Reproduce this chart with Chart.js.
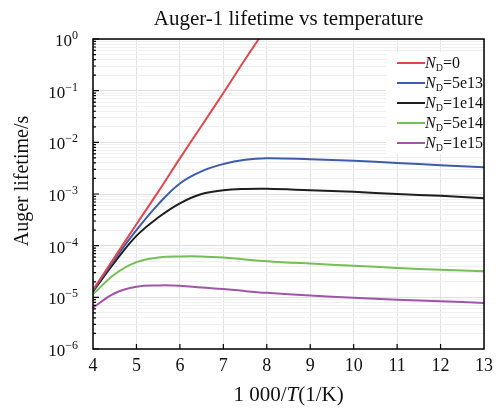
<!DOCTYPE html>
<html>
<head>
<meta charset="utf-8">
<script src="https://cdn.jsdelivr.net/npm/chart.js@4.4.1/dist/chart.umd.min.js"></script>
<style>
  html, body { margin: 0; padding: 0; background: #fff; }
</style>
</head>
<body>
<canvas id="myChart" width="499" height="413"></canvas>
<script>
// 1000/T values
const xValues = [4, 4.5, 5, 5.5, 6, 6.5, 7, 7.5, 8, 9, 10, 11, 12, 13];
const xRed = [4, 4.5, 5, 5.5, 6, 6.5, 7, 7.5, 8];

// lifetimes (s)
const tauN0 = [1.4e-5, 6.0e-5, 2.6e-4, 1.1e-3, 4.9e-3, 2.1e-2, 9.0e-2, 0.40, 1.7];
const tau5e13 = [1.35e-5, 5.5e-5, 2.0e-4, 6.3e-4, 1.6e-3, 2.75e-3, 3.8e-3, 4.6e-3, 4.9e-3, 4.7e-3, 4.4e-3, 4.0e-3, 3.6e-3, 3.3e-3];
const tau1e14 = [1.3e-5, 4.8e-5, 1.55e-4, 3.5e-4, 6.6e-4, 1.0e-3, 1.18e-3, 1.25e-3, 1.26e-3, 1.18e-3, 1.1e-3, 1.0e-3, 9.2e-4, 8.3e-4];
const tau5e14 = [1.15e-5, 2.8e-5, 4.8e-5, 5.9e-5, 6.2e-5, 6.2e-5, 5.9e-5, 5.4e-5, 5.0e-5, 4.5e-5, 4.1e-5, 3.7e-5, 3.4e-5, 3.2e-5];
const tau1e15 = [6.3e-6, 1.2e-5, 1.6e-5, 1.7e-5, 1.68e-5, 1.55e-5, 1.45e-5, 1.32e-5, 1.22e-5, 1.08e-5, 9.8e-6, 9.0e-6, 8.4e-6, 7.8e-6];

const legendValues = ['0', '5e13', '1e14', '5e14', '1e15'];
const lineColors = ['rgb(222,72,78)', 'rgb(62,92,170)', 'rgb(30,30,30)', 'rgb(118,190,86)', 'rgb(160,86,168)'];
const yDecades = [-6, -5, -4, -3, -2, -1, 0];

const serif = '"Liberation Serif", "DejaVu Serif", serif';

function toPoints(xs, ys) {
  return ys.map((y, i) => ({ x: xs[i], y: y }));
}

const seriesList = [tauN0, tau5e13, tau1e14, tau5e14, tau1e15];
const datasets = seriesList.map((s, i) => ({
  label: 'N_D=' + legendValues[i],
  data: toPoints(i === 0 ? xRed : xValues, s),
  borderColor: lineColors[i],
  borderWidth: 2,
  pointRadius: 0,
  fill: false,
  tension: 0.4
}));

// frame, inner tick marks, y labels, titles and legend
const decorPlugin = {
  id: 'decor',
  beforeDraw(chart) {
    const c = chart.ctx;
    c.save();
    c.fillStyle = '#fff';
    c.fillRect(0, 0, chart.width, chart.height);
    c.restore();
  },
  afterDatasetsDraw(chart) {
    const c = chart.ctx;
    const a = chart.chartArea;
    const xs = chart.scales.x;
    const ys = chart.scales.y;
    c.save();

    // legend box
    const lx = 386, ly = 52;
    c.fillStyle = '#fff';
    c.fillRect(lx, ly, a.right - lx - 1, 102);
    seriesList.forEach((s, i) => {
      const y = 63 + i * 20;
      c.strokeStyle = lineColors[i];
      c.lineWidth = 2;
      c.beginPath();
      c.moveTo(397, y);
      c.lineTo(425, y);
      c.stroke();
      c.fillStyle = '#111';
      c.textBaseline = 'alphabetic';
      c.textAlign = 'left';
      let tx = 425;
      c.font = 'italic 16px ' + serif;
      c.fillText('N', tx, y + 5);
      tx += c.measureText('N').width;
      c.font = '10px ' + serif;
      c.fillText('D', tx, y + 8);
      tx += c.measureText('D').width;
      c.font = '16px ' + serif;
      c.fillText('=' + legendValues[i], tx, y + 5);
    });

    // frame
    c.strokeStyle = '#000';
    c.lineWidth = 1.5;
    c.strokeRect(a.left, a.top, a.right - a.left, a.bottom - a.top);

    // inner ticks
    c.lineWidth = 1.2;
    c.beginPath();
    for (let v = 5; v < 13; v++) {
      const px = xs.getPixelForValue(v);
      c.moveTo(px, a.bottom);
      c.lineTo(px, a.bottom - 5);
    }
    yDecades.forEach(d => {
      for (let m = 1; m <= 9; m++) {
        const val = m * Math.pow(10, d);
        if (val > 1) break;
        const py = ys.getPixelForValue(val);
        c.moveTo(a.left, py);
        c.lineTo(a.left + (m === 1 ? 6 : 3), py);
      }
    });
    c.stroke();

    // y tick labels 10^n
    c.fillStyle = '#111';
    c.textAlign = 'left';
    yDecades.forEach(d => {
      const py = ys.getPixelForValue(Math.pow(10, d));
      const ex = d === 0 ? '0' : '\u2212' + String(-d);
      c.font = '12px ' + serif;
      const we = c.measureText(ex).width;
      c.font = '17px ' + serif;
      const wb = c.measureText('10').width;
      const right = 78;
      c.fillText('10', right - we - wb, py + 7);
      c.font = '12px ' + serif;
      c.fillText(ex, right - we, py);
    });

    // titles
    c.textAlign = 'center';
    c.font = '21px ' + serif;
    c.fillText('Auger-1 lifetime vs temperature', (a.left + a.right) / 2, 25);

    const p1 = '1 000/', p2 = 'T', p3 = '(1/K)';
    c.font = '21px ' + serif;
    const w1 = c.measureText(p1).width, w3 = c.measureText(p3).width;
    c.font = 'italic 21px ' + serif;
    const w2 = c.measureText(p2).width;
    let sx = (a.left + a.right) / 2 - (w1 + w2 + w3) / 2;
    c.textAlign = 'left';
    c.font = '21px ' + serif;
    c.fillText(p1, sx, 401);
    c.font = 'italic 21px ' + serif;
    c.fillText(p2, sx + w1, 401);
    c.font = '21px ' + serif;
    c.fillText(p3, sx + w1 + w2, 401);

    c.translate(28, 181);
    c.rotate(-Math.PI / 2);
    c.textAlign = 'center';
    c.font = '20px ' + serif;
    c.fillText('Auger lifetime/s', 0, 0);
    c.restore();
  }
};

const ctx = document.getElementById('myChart').getContext('2d');
new Chart(ctx, {
  type: 'line',
  data: { datasets: datasets },
  options: {
    responsive: false,
    animation: false,
    devicePixelRatio: 1,
    layout: { padding: { top: 39, right: 13, left: 0, bottom: 0 } },
    plugins: { legend: { display: false }, title: { display: false }, tooltip: { enabled: false } },
    scales: {
      x: {
        type: 'linear',
        min: 4,
        max: 13,
        afterFit: s => { s.height = 64; },
        ticks: { stepSize: 1, color: '#111', font: { family: serif, size: 18 }, padding: 6, maxRotation: 0 },
        grid: { color: '#e4e4e4', drawTicks: false },
        border: { display: false }
      },
      y: {
        type: 'logarithmic',
        min: 1e-6,
        max: 1,
        afterFit: s => { s.width = 93; },
        afterBuildTicks: s => {
          const t = [];
          yDecades.forEach(d => {
            for (let m = 1; m <= 9; m++) {
              const val = m * Math.pow(10, d);
              if (val > 1) break;
              t.push({ value: val, major: m === 1 });
            }
          });
          s.ticks = t;
        },
        ticks: {
          autoSkip: false,
          callback: () => ''
        },
        grid: {
          drawTicks: false,
          color: g => (g.tick && g.tick.major) ? '#e0e0e0' : '#f0f0f0'
        },
        border: { display: false }
      }
    }
  },
  plugins: [decorPlugin]
});
</script>
</body>
</html>
